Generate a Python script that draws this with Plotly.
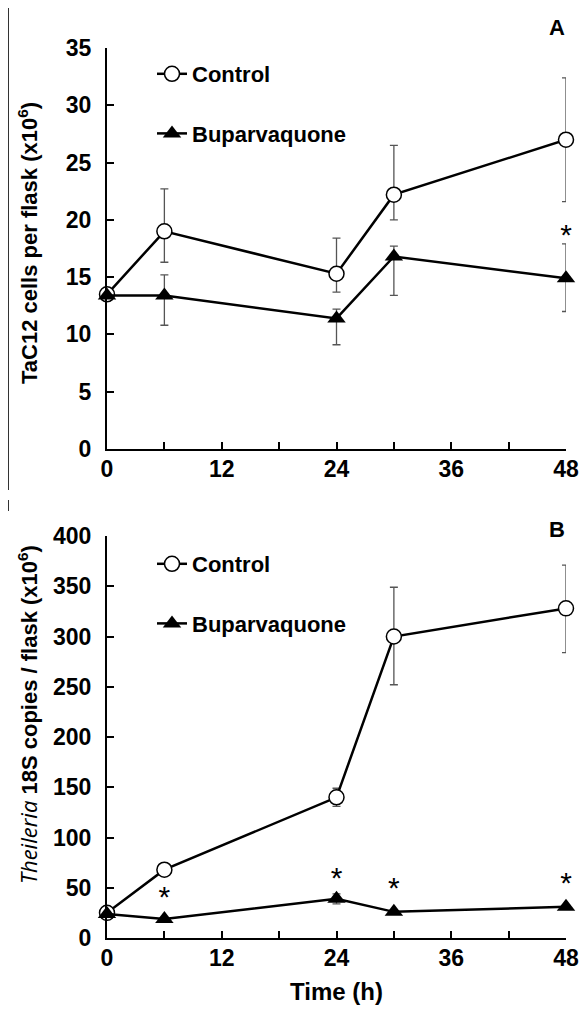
import plotly.graph_objects as go

# ---------------- data ----------------
time_h = [0, 6, 24, 30, 48]

# Panel A: TaC12 cells per flask (x10^6)
a_control = [13.5, 19.0, 15.3, 22.2, 27.0]
a_control_plus = [0, 3.7, 3.1, 4.3, 5.4]
a_control_minus = [0, 2.7, 1.6, 2.2, 5.4]
a_bup = [13.4, 13.4, 11.4, 16.8, 14.9]
a_bup_plus = [0, 1.8, 0.8, 0.9, 3.0]
a_bup_minus = [0, 2.6, 2.3, 3.4, 2.9]
a_sig_x = [48]
a_sig_y = [18.5]

# Panel B: Theileria 18S copies / flask (x10^6)
b_control = [25, 68, 140, 300, 328]
b_control_plus = [0, 0, 9, 49, 43]
b_control_minus = [0, 0, 9, 48, 44]
b_bup = [24, 19, 39, 26, 31]
b_bup_plus = [0, 0, 5, 0, 0]
b_bup_minus = [0, 0, 5, 0, 0]
b_sig_x = [6, 24, 30, 48]
b_sig_y = [38, 57, 47, 52]

x_tickvals = [0, 6, 12, 18, 24, 30, 36, 42, 48]
x_ticktext = ["0", "", "12", "", "24", "", "36", "", "48"]
a_yticks = [0, 5, 10, 15, 20, 25, 30, 35]
b_yticks = [0, 50, 100, 150, 200, 250, 300, 350, 400]

# ---------------- layout helpers ----------------
W, H = 580, 1010
PLOT_X0, PLOT_X1 = 107, 566
PLOT_Y0, PLOT_Y1 = 48, 938
L, R = PLOT_X0, W - PLOT_X1
T, B = PLOT_Y0, H - PLOT_Y1
PW = PLOT_X1 - PLOT_X0
PH = PLOT_Y1 - PLOT_Y0


def px(xw):
    return (xw - PLOT_X0) / PW


def py(yw):
    return (PLOT_Y1 - yw) / PH


SANS = "Liberation Sans, Arial, sans-serif"
TICKFONT = dict(family=SANS, size=23, color="black", weight="bold")
LEGFONT = dict(family=SANS, size=22, color="black", weight="bold")

fig = go.Figure()


def err(plus, minus):
    return dict(type="data", symmetric=False, array=plus, arrayminus=minus,
                color="#555555", thickness=1.3, width=4)


ctrl_marker = dict(symbol="circle", size=15, color="white", line=dict(color="black", width=1.5))
bup_marker = dict(symbol="triangle-up", size=16, color="black", line=dict(color="black", width=0))
line_style = dict(color="black", width=2.5)
star_font = dict(family=SANS, size=30, color="black")

# Panel A
fig.add_trace(go.Scatter(x=time_h, y=a_control, mode="lines+markers", name="Control",
                         marker=ctrl_marker, line=line_style, error_y=err(a_control_plus, a_control_minus),
                         xaxis="x", yaxis="y", legend="legend", legendgroup="a1", cliponaxis=False))
fig.add_trace(go.Scatter(x=time_h, y=a_bup, mode="lines+markers", name="Buparvaquone",
                         marker=bup_marker, line=line_style, error_y=err(a_bup_plus, a_bup_minus),
                         xaxis="x", yaxis="y", legend="legend", legendgroup="a2", cliponaxis=False))
fig.add_trace(go.Scatter(x=a_sig_x, y=a_sig_y, mode="text", text=["*"] * len(a_sig_x),
                         textfont=star_font, xaxis="x", yaxis="y", showlegend=False, cliponaxis=False))

# Panel B
fig.add_trace(go.Scatter(x=time_h, y=b_control, mode="lines+markers", name="Control",
                         marker=ctrl_marker, line=line_style, error_y=err(b_control_plus, b_control_minus),
                         xaxis="x2", yaxis="y2", legend="legend2", legendgroup="b1", cliponaxis=False))
fig.add_trace(go.Scatter(x=time_h, y=b_bup, mode="lines+markers", name="Buparvaquone",
                         marker=bup_marker, line=line_style, error_y=err(b_bup_plus, b_bup_minus),
                         xaxis="x2", yaxis="y2", legend="legend2", legendgroup="b2", cliponaxis=False))
fig.add_trace(go.Scatter(x=b_sig_x, y=b_sig_y, mode="text", text=["*"] * len(b_sig_x),
                         textfont=star_font, xaxis="x2", yaxis="y2", showlegend=False, cliponaxis=False))

axis_common = dict(showline=True, linecolor="black", linewidth=2, ticks="inside", ticklen=7,
                   tickwidth=2, tickcolor="black", showgrid=False, zeroline=False,
                   tickfont=TICKFONT, fixedrange=True, automargin=False, ticklabeloverflow="allow")

fig.update_layout(
    width=W, height=H,
    margin=dict(l=L, r=R, t=T, b=B, autoexpand=False),
    paper_bgcolor="white", plot_bgcolor="white",
    xaxis=dict(domain=[0, 1], range=[0, 48], tickmode="array", tickvals=x_tickvals, ticktext=x_ticktext,
               anchor="y", ticklabelstandoff=-2, **axis_common),
    yaxis=dict(domain=[py(449), 1.0], range=[0, 35], tickmode="array", tickvals=a_yticks,
               anchor="x", ticklabelstandoff=9, **axis_common),
    xaxis2=dict(domain=[0, 1], range=[0, 48], tickmode="array", tickvals=x_tickvals, ticktext=x_ticktext,
                anchor="y2", ticklabelstandoff=-2, **axis_common),
    yaxis2=dict(domain=[0, py(536)], range=[0, 400], tickmode="array", tickvals=b_yticks,
                anchor="x2", ticklabelstandoff=9, **axis_common),
    legend=dict(x=px(152), y=py(53), xanchor="left", yanchor="top", bgcolor="rgba(0,0,0,0)",
                font=LEGFONT, tracegroupgap=28, itemwidth=30),
    legend2=dict(x=px(152), y=py(543), xanchor="left", yanchor="top", bgcolor="rgba(0,0,0,0)",
                 font=LEGFONT, tracegroupgap=28, itemwidth=30),
    showlegend=True,
    hovermode=False,
)


def note(xw, yw, text, font, angle=0):
    fig.add_annotation(x=px(xw), y=py(yw), xref="paper", yref="paper", text=text, textangle=angle,
                       showarrow=False, xanchor="center", yanchor="middle", font=font)


ann_font = dict(family=SANS, size=22, color="black", weight="bold")
note(28, 243, "TaC12 cells per flask (x10<sup>6</sup>)", ann_font, -90)
note(28, 715, "<span style='font-family:Open Sans;font-style:italic;font-weight:normal'>Theileria</span>"
              " 18S copies / flask (x10<sup>6</sup>)", ann_font, -90)
note(336, 991, "Time (h)", dict(family=SANS, size=24, color="black", weight="bold"))
note(557, 27, "A", dict(family=SANS, size=22, color="black", weight="bold"))
note(557, 529, "B", dict(family=SANS, size=22, color="black", weight="bold"))

# left border remnants of the original figure frame
fig.add_shape(type="line", xref="paper", yref="paper", x0=px(8.5), x1=px(8.5), y0=py(490), y1=py(8),
              line=dict(color="#333333", width=1))
fig.add_shape(type="line", xref="paper", yref="paper", x0=px(8.5), x1=px(8.5), y0=py(511), y1=py(500),
              line=dict(color="#333333", width=1))

# place the figure at the window's top-left corner (no default body margin), no mode bar
fig.write_html("out.html", config={"displayModeBar": False, "staticPlot": False},
               post_script="document.body.style.margin='0';document.body.style.overflow='hidden';")
